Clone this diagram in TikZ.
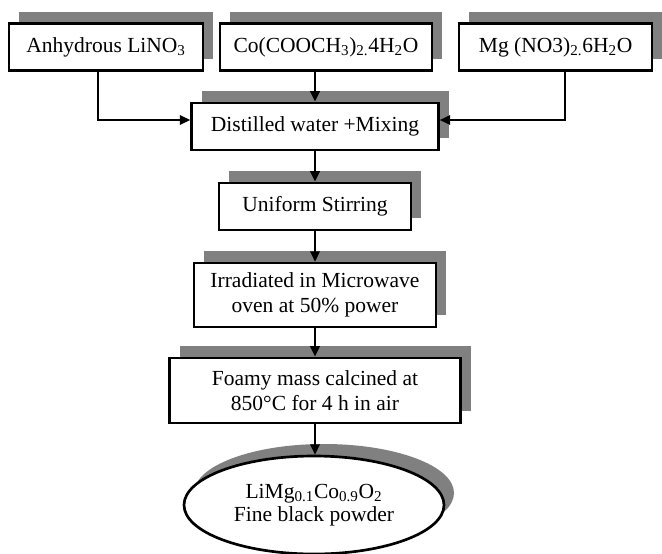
\documentclass[tikz,border=0pt]{standalone}
\usepackage{fontspec}
\setmainfont{Liberation Serif}
\usetikzlibrary{shapes,arrows.meta,positioning,shadows}

\begin{document}
\begin{tikzpicture}[
    block/.style={draw, rectangle, line width=1.9pt, fill=white, minimum height=1.175cm, align=center,
      font=\fontsize{15.3}{17.5}\selectfont, general shadow={fill=black!50, shadow xshift=0.25cm, shadow yshift=0.3cm}},
    product/.style={draw, ellipse, line width=1.9pt, fill=white, minimum width=6.5cm, minimum height=2.45cm, align=center,
      font=\fontsize{15.3}{16.5}\selectfont, general shadow={fill=black!50, shadow xshift=0.25cm, shadow yshift=0.3cm}},
    edge/.style={-{Triangle[length=0.26cm, width=0.24cm]}, line width=1.4pt, draw=black},
]
\useasboundingbox (0,0) rectangle (16.55,-13.825);

% Starting salts
\node[block, minimum width=4.85cm] (lino) at (2.65, -1.175) {Anhydrous LiNO\textsubscript{3}};
\node[block, minimum width=5.3cm] (coac) at (8.15, -1.175) {Co(COOCH\textsubscript{3})\textsubscript{2.}4H\textsubscript{2}O};
\node[block, minimum width=4.825cm] (mgno) at (13.89, -1.175) {Mg (NO3)\textsubscript{2.}6H\textsubscript{2}O};

% Process steps
\node[block, minimum width=6.175cm] (mix) at (7.875, -3.16) {Distilled water +Mixing};
\node[block, minimum width=4.8cm] (stir) at (7.875, -5.16) {Uniform Stirring};
\node[block, minimum width=6.05cm, minimum height=1.6cm] (micro) at (7.875, -7.375) {Irradiated in Microwave\\oven at 50\% power};
\node[block, minimum width=7.275cm, minimum height=1.625cm] (calc) at (7.875, -9.76) {Foamy mass calcined at\\850°C for 4 h in air};

% Product
\node[product] (powder) at (7.85, -12.625) {LiMg\textsubscript{0.1}Co\textsubscript{0.9}O\textsubscript{2}\\Fine black powder};

\draw[edge] ([xshift=-0.2cm]lino.south) |- ([yshift=0.16cm]mix.west);
\draw[edge] ([xshift=0.24cm]mgno.south) |- ([yshift=0.16cm]mix.east);
\draw[edge] (coac.south -| mix.north) -- (mix.north);
\draw[edge] (mix) -- (stir);
\draw[edge] (stir) -- (micro);
\draw[edge] (micro) -- (calc);
\draw[edge] (calc.south) -- (calc.south |- powder.north);

\end{tikzpicture}
\end{document}
